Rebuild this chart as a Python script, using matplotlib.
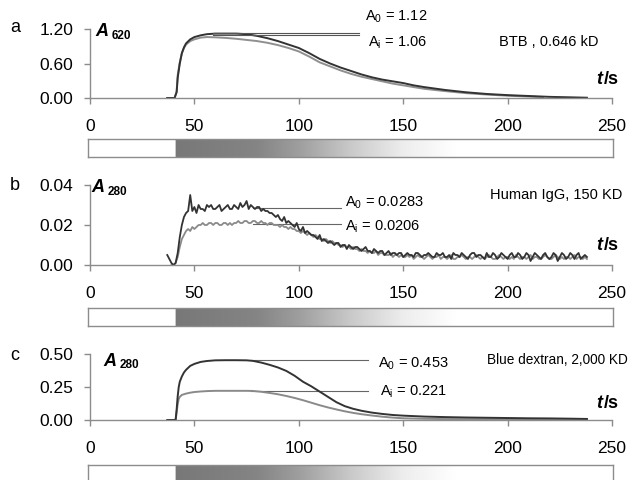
import numpy as np
import matplotlib
matplotlib.use("Agg")
import matplotlib.pyplot as plt

plt.rcParams['font.family'] = ['Liberation Sans', 'DejaVu Sans']
plt.rcParams['mathtext.fontset'] = 'custom'
plt.rcParams['mathtext.rm'] = 'Liberation Sans'

# ---------------- data ----------------
# Panel a: BTB, 0.646 kD (A620)
t_a0 = [37, 40.5, 41.5, 42, 43, 44, 45, 46, 48, 50, 53, 56, 60, 65, 70, 75, 80, 85, 90, 95,
        100, 105, 110, 115, 120, 125, 130, 135, 140, 145, 150, 155, 160, 170, 180, 190, 200,
        210, 220, 230, 238]
a_a0 = [0, 0, 0.1, 0.35, 0.6, 0.78, 0.88, 0.95, 1.02, 1.06, 1.09, 1.11, 1.12, 1.12, 1.12, 1.11,
        1.08, 1.04, 0.99, 0.93, 0.87, 0.78, 0.68, 0.60, 0.53, 0.47, 0.41, 0.36, 0.32, 0.29, 0.26,
        0.22, 0.19, 0.14, 0.10, 0.07, 0.05, 0.035, 0.02, 0.012, 0.005]
t_ai = [37, 40.5, 41.5, 42, 43, 44, 45, 46, 48, 50, 53, 56, 60, 65, 70, 75, 80, 85, 90, 95,
        100, 105, 110, 115, 120, 125, 130, 135, 140, 145, 150, 155, 160, 170, 180, 190, 200,
        210, 217]
a_ai = [0, 0, 0.12, 0.4, 0.62, 0.78, 0.87, 0.93, 0.99, 1.02, 1.05, 1.06, 1.055, 1.045, 1.03,
        1.01, 0.99, 0.96, 0.92, 0.87, 0.81, 0.72, 0.62, 0.55, 0.48, 0.42, 0.37, 0.33, 0.29, 0.25,
        0.22, 0.19, 0.16, 0.12, 0.085, 0.06, 0.04, 0.025, 0.015]

# Panel b: Human IgG, 150 KD (A280), values in milli-absorbance, 1 s steps
t_b0_start = 37
b0_mA = [5, 3, 1, 0, 1, 6, 14, 20, 24, 26,
         27, 35, 27, 29, 26, 30, 28, 28, 27, 30,
         29, 30, 28, 28, 29, 30, 27, 28, 29, 30,
         28, 28, 30, 29, 28, 31, 29, 30, 32, 28,
         30, 29, 28, 29, 29, 27, 28, 27, 27, 26,
         26, 25, 24, 25, 23, 22, 24, 21, 22, 21,
         20, 19, 21, 18, 17, 19, 16, 17, 16, 15,
         15, 14, 13, 15, 12, 13, 12, 11, 12, 11,
         10, 11, 11, 9, 10, 10, 8, 10, 9, 8,
         9, 9, 8, 7, 8, 9, 7, 7, 6, 8,
         7, 6, 7, 7, 5, 6, 7, 5, 6, 6,
         5, 6, 6, 4, 5, 6, 5, 5, 4, 6,
         6, 5, 4, 5, 5, 6, 5, 4, 4, 6,
         5, 5, 6, 4, 4, 5, 3, 6, 5, 5,
         4, 6, 5, 4, 3, 5, 6, 6, 4, 5,
         5, 4, 3, 6, 4, 4, 6, 5, 3, 4,
         6, 5, 4, 3, 5, 6, 4, 4, 6, 5,
         3, 4, 6, 5, 2, 4, 6, 5, 4, 3,
         5, 6, 4, 3, 4, 6, 5, 2, 4, 6,
         5, 3, 4, 6, 5, 3, 5, 6, 3, 4,
         5, 4]
t_bi_start = 39
bi_mA = [0, 0, 1, 4, 9, 13, 15, 17, 18, 17,
         19, 18, 19, 20, 20, 21, 20, 20, 21, 21,
         20, 21, 21, 20, 20, 21, 21, 20, 21, 20,
         21, 21, 22, 21, 21, 22, 22, 21, 21, 22,
         22, 21, 21, 22, 21, 21, 20, 21, 21, 20,
         20, 20, 19, 20, 19, 19, 18, 19, 18, 18,
         17, 17, 16, 17, 16, 15, 16, 15, 14, 15,
         14, 13, 13, 12, 13, 12, 11, 12, 11, 11,
         10, 10, 9, 10, 9, 9, 8, 9, 8, 8,
         7, 8, 7, 7, 6, 7, 6, 6, 7, 5,
         6, 6, 5, 5, 5, 6, 4, 5, 5, 4,
         5, 4, 4, 5, 4, 5, 3, 4, 5, 4,
         4, 3, 4, 5, 4, 3, 4, 4, 5, 3,
         4, 4, 3, 4, 5, 3, 3, 4, 4, 5,
         4, 3, 4, 4, 3, 4, 5, 4, 3, 4,
         3, 4, 5, 4, 3, 3, 4, 5, 4, 3,
         4, 4, 3, 4, 3, 5, 4, 3, 4, 4,
         3, 4, 5, 3, 4, 4, 3, 3, 4, 5,
         4, 3, 3, 4, 5, 4, 3, 4, 3, 4,
         4, 3, 4, 5, 3, 4, 4, 3, 4, 3]

# Panel c: Blue dextran, 2,000 KD (A280)
t_c0 = [37, 41, 41.5, 42, 42.5, 43, 44, 45, 46, 48, 50, 53, 56, 60, 65, 70, 75, 78, 82, 86,
        90, 94, 98, 102, 106, 110, 114, 118, 122, 126, 130, 135, 140, 145, 150, 160, 170, 180,
        190, 200, 210, 220, 230, 238]
c_a0 = [0, 0, 0.08, 0.18, 0.25, 0.29, 0.33, 0.36, 0.38, 0.41, 0.425, 0.44, 0.447, 0.452, 0.453,
        0.453, 0.452, 0.448, 0.435, 0.418, 0.398, 0.372, 0.335, 0.29, 0.255, 0.215, 0.175, 0.135,
        0.105, 0.085, 0.07, 0.056, 0.046, 0.038, 0.033, 0.026, 0.022, 0.019, 0.017, 0.015, 0.013,
        0.012, 0.01, 0.008]
t_ci = [41, 41.5, 42, 42.5, 43, 44, 46, 48, 50, 53, 56, 60, 65, 70, 75, 78, 82, 86, 90, 94, 98,
        102, 106, 110, 114, 118, 122, 126, 130, 135, 140, 145, 150, 160, 170, 180, 200, 220, 238]
c_ai = [0, 0.06, 0.12, 0.16, 0.175, 0.19, 0.2, 0.207, 0.212, 0.216, 0.219, 0.221, 0.221, 0.221,
        0.221, 0.22, 0.214, 0.205, 0.195, 0.182, 0.167, 0.15, 0.131, 0.112, 0.095, 0.08, 0.066,
        0.054, 0.044, 0.034, 0.025, 0.018, 0.013, 0.009, 0.007, 0.006, 0.005, 0.004, 0.003]

x_ticks = [0, 50, 100, 150, 200, 250]
y_ticks_a = [0.0, 0.6, 1.2]
y_ticks_b = [0.0, 0.02, 0.04]
y_ticks_c = [0.0, 0.25, 0.5]

labels_a = ["A$_\\mathregular{0}$ = 1.12", "A$_\\mathregular{i}$ = 1.06", "BTB , 0.646 kD"]
labels_b = ["A$_\\mathregular{0}$ = 0.0283", "A$_\\mathregular{i}$ = 0.0206", "Human IgG, 150 KD"]
labels_c = ["A$_\\mathregular{0}$ = 0.453", "A$_\\mathregular{i}$ = 0.221", "Blue dextran, 2,000 KD"]

# ---------------- figure ----------------
W, H = 638, 480
fig = plt.figure(figsize=(W / 100, H / 100), dpi=100)

DARK = '#333333'
LIGHT = '#8a8a8a'
AX = '#8c8c8c'


def fx(px):
    return px / W


def fy(py):
    return 1 - py / H


def make_axes(top, bottom, ylim, yticks, fmt):
    ax = fig.add_axes([fx(90), fy(bottom), fx(612) - fx(90), fy(top) - fy(bottom)])
    ax.set_xlim(0, 250)
    ax.set_ylim(*ylim)
    for s in ['top', 'right']:
        ax.spines[s].set_visible(False)
    for s in ['left', 'bottom']:
        ax.spines[s].set_color(AX)
        ax.spines[s].set_linewidth(1.0)
    ax.set_xticks(x_ticks)
    ax.set_xticklabels([str(v) for v in x_ticks])
    ax.set_yticks(yticks)
    ax.set_yticklabels([fmt.format(v) for v in yticks])
    ax.tick_params(axis='x', direction='out', length=4, width=1, color=AX, pad=11,
                   labelsize=12.5, labelcolor='black')
    ax.tick_params(axis='y', direction='out', length=4, width=1, color=AX, pad=8,
                   labelsize=12.5, labelcolor='black')
    return ax


def gradient_bar(top):
    bax = fig.add_axes([fx(88), fy(top + 18), fx(613) - fx(88), 18 / H])
    tt = np.linspace(0, 250, 1000)
    stops_t = [0, 40.9, 41, 80, 100, 125, 150, 175, 250]
    stops_v = [1.0, 1.0, 0.47, 0.52, 0.62, 0.79, 0.93, 1.0, 1.0]
    vals = np.interp(tt, stops_t, stops_v)
    img = np.repeat(vals[None, :, None], 3, axis=2)
    bax.imshow(img, extent=[0, 250, 0, 1], aspect='auto', interpolation='bilinear')
    bax.set_xlim(-1, 250.5)
    bax.set_ylim(0, 1)
    bax.set_xticks([])
    bax.set_yticks([])
    for s in bax.spines.values():
        s.set_color(AX)
        s.set_linewidth(1.0)
    return bax


def ylabel(px_a, py, sub):
    fig.text(fx(px_a), fy(py), "A", fontsize=13, fontweight='bold', fontstyle='italic',
             ha='left', va='center')
    fig.text(fx(px_a + 17), fy(py + 4), sub, fontsize=8.5, fontweight='bold',
             ha='left', va='center')


def tlabel(py):
    fig.text(fx(596), fy(py), "t", fontsize=13, fontweight='bold', fontstyle='italic',
             ha='left', va='center')
    fig.text(fx(604), fy(py), "/s", fontsize=13, fontweight='bold', ha='left', va='center')


# Panel a
ax_a = make_axes(29, 98, (0, 1.2), y_ticks_a, "{:.2f}")
ax_a.plot(t_ai, a_ai, color='#8f8f8f', lw=1.4, clip_on=False)
ax_a.plot(t_a0, a_a0, color=DARK, lw=1.4, clip_on=False)
ax_a.plot([59, 129], [1.135, 1.135], color='#555555', lw=0.8)
ax_a.plot([59, 129], [1.09, 1.09], color='#555555', lw=0.8)
ax_a.text(131.5, 1.41, labels_a[0], fontsize=10.5, ha='left', va='center')
ax_a.text(133, 0.96, labels_a[1], fontsize=10.5, ha='left', va='center')
ax_a.text(196, 0.97, labels_a[2], fontsize=10.5, ha='left', va='center')
gradient_bar(139)

# Panel b
ax_b = make_axes(185, 265, (0, 0.04), y_ticks_b, "{:.2f}")
tb0 = t_b0_start + np.arange(len(b0_mA))
tbi = t_bi_start + np.arange(len(bi_mA))
ax_b.plot([78, 120], [0.0283, 0.0283], color='#666666', lw=0.8)
ax_b.plot([78, 120], [0.0206, 0.0206], color='#666666', lw=0.8)
ax_b.plot(tbi, np.array(bi_mA) / 1000, color=LIGHT, lw=1.3, clip_on=False)
ax_b.plot(tb0, np.array(b0_mA) / 1000, color=DARK, lw=1.3, clip_on=False)
ax_b.text(122, 0.031, labels_b[0], fontsize=10.5, ha='left', va='center')
ax_b.text(122, 0.019, labels_b[1], fontsize=10.5, ha='left', va='center')
ax_b.text(191.5, 0.0352, labels_b[2], fontsize=10.5, ha='left', va='center')
gradient_bar(308)

# Panel c
ax_c = make_axes(354, 420, (0, 0.5), y_ticks_c, "{:.2f}")
ax_c.plot([77, 133], [0.451, 0.451], color='#666666', lw=0.8)
ax_c.plot([77, 133], [0.221, 0.221], color='#666666', lw=0.8)
ax_c.plot(t_ci, c_ai, color=LIGHT, lw=1.4, clip_on=False)
ax_c.plot(t_c0, c_a0, color=DARK, lw=1.4, clip_on=False)
ax_c.text(138, 0.426, labels_c[0], fontsize=10.5, ha='left', va='center')
ax_c.text(139, 0.216, labels_c[1], fontsize=10.5, ha='left', va='center')
ax_c.text(190, 0.452, labels_c[2], fontsize=9.8, ha='left', va='center')
gradient_bar(465)

# axis labels
ylabel(95, 32, "620")
ylabel(91, 188, "280")
ylabel(103, 361, "280")
tlabel(80)
tlabel(246)
tlabel(403)

# panel letters
fig.text(fx(10), fy(27), "a", fontsize=13, ha='left', va='center')
fig.text(fx(10), fy(186), "b", fontsize=13, ha='left', va='center')
fig.text(fx(10), fy(355), "c", fontsize=13, ha='left', va='center')

fig.savefig("out.png", dpi=100, facecolor='white')
